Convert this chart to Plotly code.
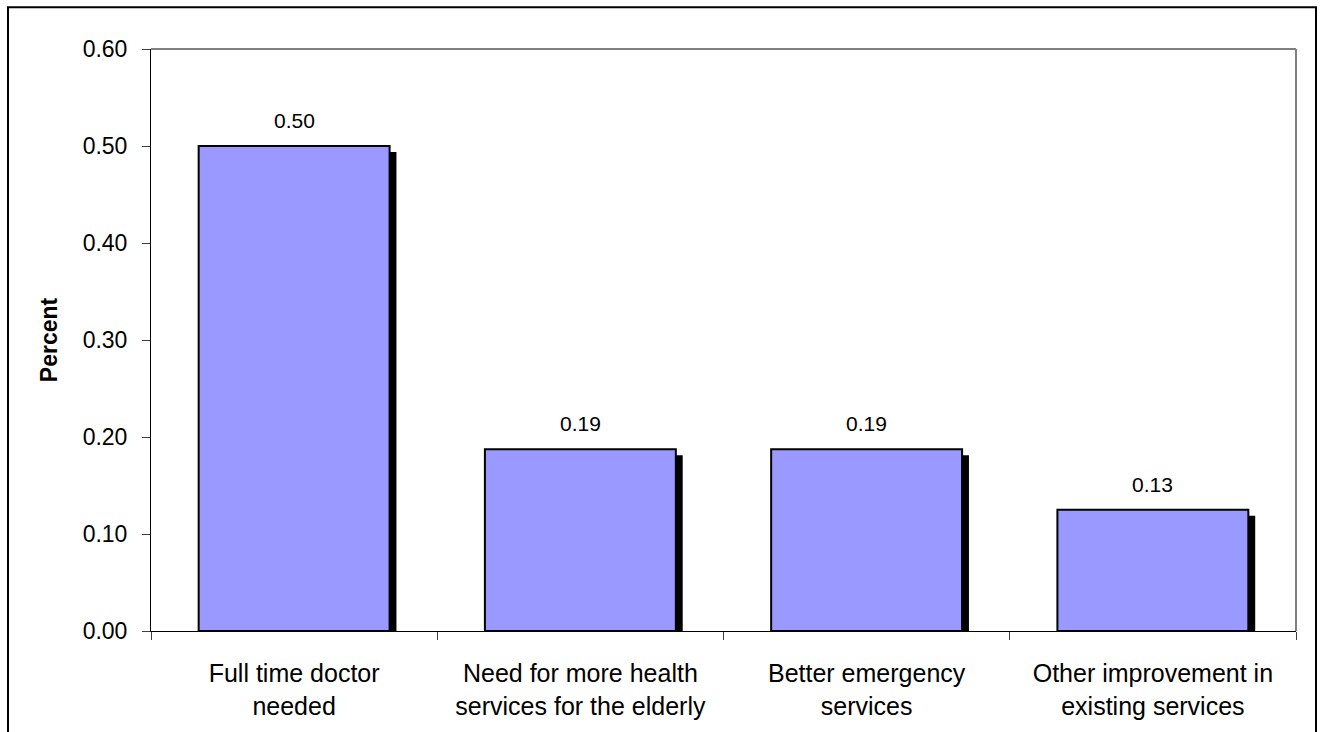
import plotly.graph_objects as go
from decimal import Decimal, ROUND_HALF_UP

categories = ["Full time doctor<br>needed",
              "Need for more health<br>services for the elderly",
              "Better emergency<br>services",
              "Other improvement in<br>existing services"]
values = [0.50, 0.1875, 0.1875, 0.125]
y_ticks = [0.0, 0.1, 0.2, 0.3, 0.4, 0.5, 0.6]
y_tick_labels = ["0.00", "0.10", "0.20", "0.30", "0.40", "0.50", "0.60"]

FONT = "Liberation Sans, Arial, sans-serif"
BAR_W = 0.667
SHADOW_DX = 0.024   # category units
SHADOW_DY = 0.0062  # y units


def fmt2(v):
    return str(Decimal(str(v)).quantize(Decimal("0.01"), rounding=ROUND_HALF_UP))


fig = go.Figure()
# shadow
fig.add_trace(go.Bar(
    x=categories, y=[v - SHADOW_DY for v in values], base=0,
    width=BAR_W, offset=-BAR_W / 2 + SHADOW_DX,
    marker=dict(color="black", line=dict(width=0)),
    hoverinfo="skip", showlegend=False,
))
# main bars
fig.add_trace(go.Bar(
    x=categories, y=values,
    width=BAR_W, offset=-BAR_W / 2,
    marker=dict(color="#9999FF", line=dict(color="black", width=2)),
    showlegend=False,
))
for c, v in zip(categories, values):
    fig.add_annotation(x=c, y=v, text=fmt2(v), showarrow=False,
                       yanchor="bottom", yshift=12,
                       font=dict(family=FONT, size=21, color="black"))

fig.update_layout(
    width=1322, height=732,
    margin=dict(l=151, r=26, t=49, b=99),
    paper_bgcolor="white", plot_bgcolor="white",
    barmode="overlay",
    font=dict(family=FONT, color="black"),
)
fig.update_xaxes(
    type="category", tickson="boundaries", ticks="outside", ticklen=8,
    tickcolor="#404040", tickwidth=1,
    showline=True, linecolor="black", linewidth=1, mirror=False,
    showgrid=False, tickfont=dict(family=FONT, size=25, color="black"),
    ticklabelstandoff=20,
)
fig.update_yaxes(
    range=[0, 0.6], tickvals=y_ticks, ticktext=y_tick_labels,
    ticks="outside", ticklen=8, tickcolor="#404040", tickwidth=1,
    showline=True, linecolor="black", linewidth=1,
    showgrid=False, zeroline=False,
    tickfont=dict(family=FONT, size=23, color="black"),
    ticklabelstandoff=10,
    title=dict(text="<b>Percent</b>", font=dict(family=FONT, size=23, color="black"), standoff=18),
)
# plot-area top and right border
fig.add_shape(type="line", xref="paper", yref="paper", x0=0, x1=1, y0=1, y1=1,
              line=dict(color="black", width=1))
fig.add_shape(type="line", xref="paper", yref="paper", x0=1, x1=1, y0=0, y1=1,
              line=dict(color="#808080", width=2))
# outer chart border (bottom edge falls outside the view)
fig.add_shape(type="rect", xref="paper", yref="paper",
              x0=(8 - 151) / 1145, x1=(1316 - 151) / 1145,
              y0=-0.3, y1=(633 - 7) / 584,
              line=dict(color="black", width=2), layer="below")

fig.write_html("out.html", config={"displayModeBar": False},
               post_script="document.body.style.margin='0';")
